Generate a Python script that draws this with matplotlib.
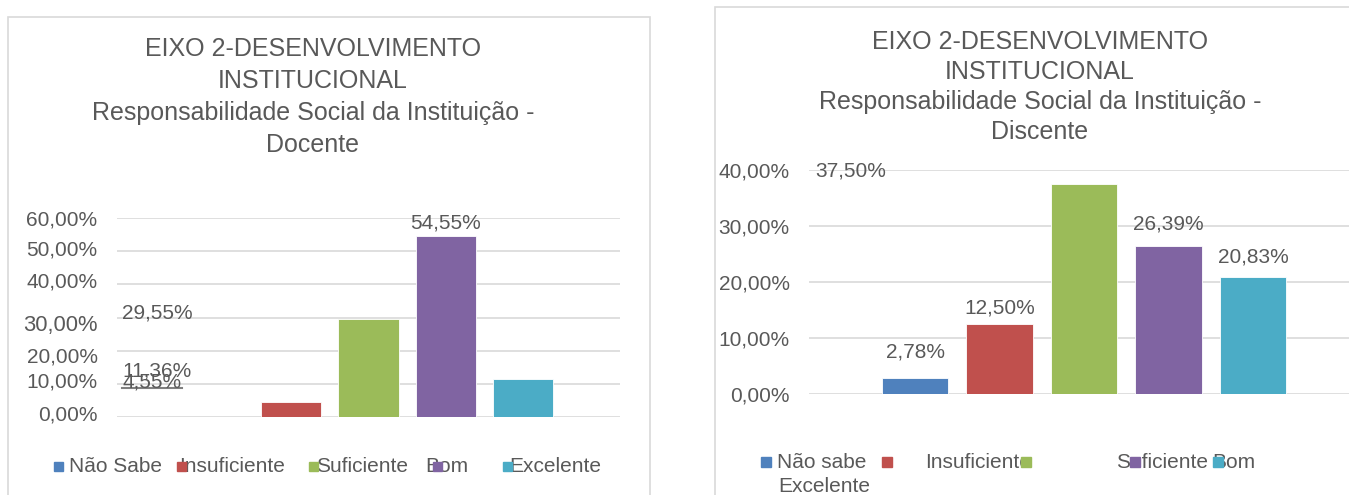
import matplotlib
matplotlib.use("Agg")
import matplotlib.pyplot as plt
from matplotlib.patches import Rectangle
from matplotlib.transforms import ScaledTranslation, blended_transform_factory

plt.rcParams['font.family'] = ['Liberation Sans', 'DejaVu Sans']

# --- data ---
doc_categories = ["Não Sabe", "Insuficiente", "Suficiente", "Bom", "Excelente"]
doc_values = [0.0, 4.55, 29.55, 54.55, 11.36]
dis_categories = ["Não sabe", "Insuficiente", "Suficiente", "Bom", "Excelente"]
dis_values = [2.78, 12.50, 37.50, 26.39, 20.83]
colors = ["#4f81bd", "#c0504d", "#9bbb59", "#8064a2", "#4bacc6"]

title_doc = "EIXO 2-DESENVOLVIMENTO\nINSTITUCIONAL\nResponsabilidade Social da Instituição -\nDocente"
title_dis = "EIXO 2-DESENVOLVIMENTO\nINSTITUCIONAL\nResponsabilidade Social da Instituição -\nDiscente"
doc_ticks = [0, 10, 20, 30, 40, 50, 60]
dis_ticks = [0, 10, 20, 30, 40]

TXT = "#595959"
GRID = "#d9d9d9"
W, H = 1349, 495


def fx(x):
    return x / W


def fy(y):
    return 1 - y / H


def pct(v):
    return f"{v:.2f}%".replace(".", ",")


fig = plt.figure(figsize=(W / 100, H / 100), dpi=100)

# panel frames
fig.patches.append(Rectangle((fx(8), fy(500)), fx(650) - fx(8), fy(17) - fy(500),
                             transform=fig.transFigure, fill=False, ec=GRID, lw=1.2))
fig.patches.append(Rectangle((fx(715), fy(500)), fx(1360) - fx(715), fy(7) - fy(500),
                             transform=fig.transFigure, fill=False, ec=GRID, lw=1.2))

fig.text(fx(313), fy(97), title_doc, ha="center", va="center", fontsize=18,
         color=TXT, linespacing=1.41)
fig.text(fx(1040), fy(87), title_dis, ha="center", va="center", fontsize=18,
         color=TXT, linespacing=1.31)


def setup(ax, ticks, top):
    x = range(5)
    ax.set_xlim(-1.255, 5.255)
    ax.set_ylim(0, top)
    ax.set_yticks(ticks)
    ax.set_yticklabels([pct(t) for t in ticks], fontsize=15, color=TXT)
    ax.tick_params(axis="y", length=0, pad=14)
    ax.set_xticks([])
    for s in ax.spines.values():
        s.set_visible(False)
    ax.grid(axis="y", color=GRID, lw=1.2)
    ax.set_axisbelow(True)
    ax.patch.set_alpha(0)
    return x


# ---- left: Docente ----
ax1 = fig.add_axes([fx(117), fy(417), (620 - 117) / W, (417 - 218) / H])
x = setup(ax1, doc_ticks, 60)
ax1.bar(x, doc_values, width=0.777, color=colors, ec="white", lw=0.6)

# misplaced tick labels as in the source picture (pixels, + is down)
shift = {0: -4, 10: -4, 20: 4, 30: 6, 40: -4, 50: -3, 60: 0}
for lab, t in zip(ax1.get_yticklabels(), doc_ticks):
    lab.set_transform(lab.get_transform() + ScaledTranslation(0, -shift[t] / 100, fig.dpi_scale_trans))
    if t == 30:
        lab.set_fontsize(15.8)

bl1 = blended_transform_factory(ax1.transAxes, ax1.transData)
ax1.annotate(pct(doc_values[3]), (3, doc_values[3]), xytext=(0, 9.5), textcoords="offset points",
             ha="center", va="center", fontsize=15, color=TXT)
ax1.annotate(pct(doc_values[2]), (0.01, doc_values[2]), xycoords=bl1, xytext=(0, 4.3),
             textcoords="offset points", ha="left", va="center", fontsize=15, color=TXT)
ax1.annotate(pct(doc_values[4]), (0.01, doc_values[4]), xycoords=bl1, xytext=(0, 6.3),
             textcoords="offset points", ha="left", va="center", fontsize=15, color=TXT)
ax1.annotate(pct(doc_values[1]), (0.01, doc_values[1]), xycoords=bl1, xytext=(0, 14.4),
             textcoords="offset points", ha="left", va="center", fontsize=15, color=TXT)
# underline below 4,55%
ax1.plot([0.01, 0.129], [doc_values[1]] * 2, transform=bl1 + ScaledTranslation(0, 0.14, fig.dpi_scale_trans),
         color="#7f7f7f", lw=1.5, clip_on=False)

# ---- right: Discente ----
ax2 = fig.add_axes([fx(809), fy(394), 84.5 * 6.51 / W, (394 - 170) / H])
x = setup(ax2, dis_ticks, 40)
ax2.bar(x, dis_values, width=0.787, color=colors, ec="white", lw=0.6)

offs = [18.7, 11.5, None, 15.8, 15]
for i, v in enumerate(dis_values):
    if offs[i] is None:
        continue
    ax2.annotate(pct(v), (i, v), xytext=(0, offs[i]), textcoords="offset points",
                 ha="center", va="center", fontsize=15, color=TXT)
bl2 = blended_transform_factory(ax2.transAxes, ax2.transData)
ax2.annotate(pct(dis_values[2]), (0.011, dis_values[2]), xycoords=bl2, xytext=(0, 9.4),
             textcoords="offset points", ha="left", va="center", fontsize=15, color=TXT)

# ---- legends (drawn by hand, overlapped as in the source) ----
def legend(names, sq_x, txt_x, rows, size=9):
    for name, c, sx, tx, ry in zip(names, colors, sq_x, txt_x, rows):
        fig.text(fx(tx), fy(ry[1]), name, ha="left", va="center", fontsize=15, color=TXT)
        fig.patches.append(Rectangle((fx(sx), fy(ry[0] + size / 2)), size / W, size / H,
                                     transform=fig.transFigure, color=c, zorder=5))


legend(doc_categories, [54, 177, 309, 433, 503], [69, 179, 316, 425, 509], [(466, 466)] * 5)
legend(dis_categories, [761, 882, 1021, 1130, 1213], [777, 925, 1116, 1212, 778],
       [(462, 462), (462, 462), (462, 462), (462, 462), (462, 487)], size=10)

fig.savefig("out.png", dpi=100)
